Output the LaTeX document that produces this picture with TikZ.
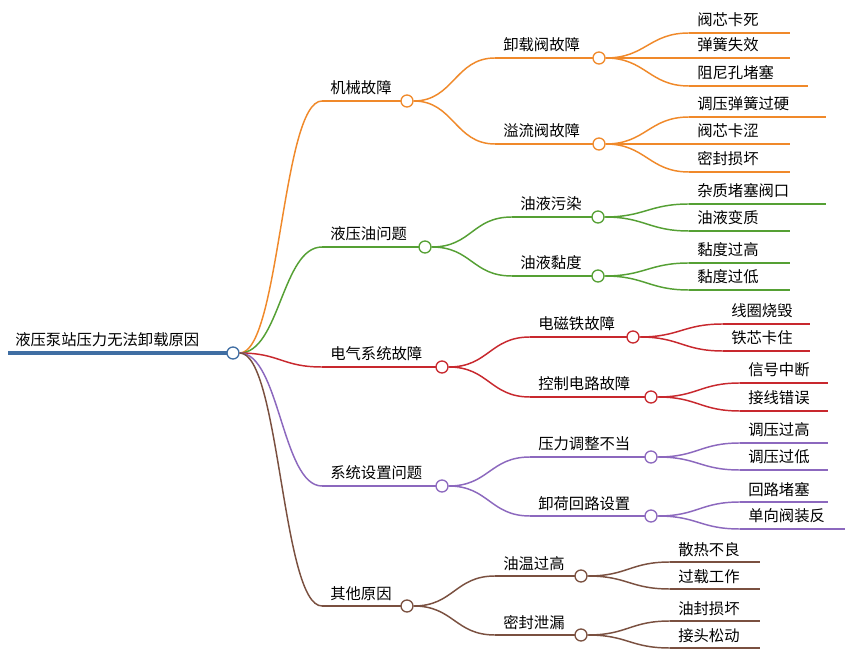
\documentclass[tikz,border=0pt]{standalone}
\usepackage{fontspec}
\setmainfont{Noto Sans CJK SC}
\begin{document}
\begin{tikzpicture}[x=0.75pt,y=-0.75pt,
  lbl/.style={anchor=base west,inner sep=0pt,font=\fontsize{11.5pt}{13pt}\selectfont},
  dot/.style={circle,draw,fill=white,minimum size=9pt,inner sep=0pt,line width=1pt},
  ln/.style={line width=1.1pt},
  con/.style={line width=1.1pt}]
\definecolor{cO}{HTML}{F0892A}
\definecolor{cG}{HTML}{55A034}
\definecolor{cR}{HTML}{C8282E}
\definecolor{cP}{HTML}{8C68BE}
\definecolor{cB}{HTML}{7A5040}
\definecolor{cRoot}{HTML}{3F6EA3}
\useasboundingbox (0,0) rectangle (850,666);
\fill[white] (0,0) rectangle (850,666);
% branch: name,color,x0,xc,y,text
\newcommand\mmbr[6]{%
  \coordinate (#1-s) at (#3,#5);
  \draw[#2,ln] (#1-s) -- (#4,#5);
  \node[lbl] (#1-t) at (#3+8,#5-7) {#6};
  \node[dot,draw=#2] (#1) at (#4,#5) {};}
\newcommand\mmlf[6]{%
  \coordinate (#1-s) at (#3,#5);
  \coordinate (#1-e) at (#4,#5);
  \draw[#2,ln] (#1-s) -- (#1-e);
  \node[lbl] (#1-t) at (#3+8,#5-7) {#6};}
\newcommand\cn[3]{\draw[#1,con] (#2.east) .. controls +(40,0) and +(-40,0) .. (#3-s);}
% root
\coordinate (r-s) at (8,353);
\draw[cRoot,line width=3pt] (r-s) -- (233,353);
\node[lbl] (r-t) at (15,346) {液压泵站压力无法卸载原因};
\node[dot,draw=cRoot] (r) at (233,353) {};
% level 1
\mmbr{a}{cO}{322}{407}{101}{机械故障}
\mmbr{b}{cG}{322}{425}{247}{液压油问题}
\mmbr{c}{cR}{322}{442}{367}{电气系统故障}
\mmbr{d}{cP}{322}{442}{486}{系统设置问题}
\mmbr{e}{cB}{322}{407}{606}{其他原因}
\cn{cO}{r}{a}\cn{cG}{r}{b}\cn{cR}{r}{c}\cn{cP}{r}{d}\cn{cB}{r}{e}
% level 2
\mmbr{a1}{cO}{495}{599}{58}{卸载阀故障}
\mmbr{a2}{cO}{495}{599}{144}{溢流阀故障}
\mmbr{b1}{cG}{512}{598}{217}{油液污染}
\mmbr{b2}{cG}{512}{598}{276}{油液黏度}
\mmbr{c1}{cR}{530}{633}{337}{电磁铁故障}
\mmbr{c2}{cR}{530}{651}{397}{控制电路故障}
\mmbr{d1}{cP}{530}{651}{457}{压力调整不当}
\mmbr{d2}{cP}{530}{651}{516}{卸荷回路设置}
\mmbr{e1}{cB}{495}{581}{576}{油温过高}
\mmbr{e2}{cB}{495}{581}{635}{密封泄漏}
\cn{cO}{a}{a1}\cn{cO}{a}{a2}
\cn{cG}{b}{b1}\cn{cG}{b}{b2}
\cn{cR}{c}{c1}\cn{cR}{c}{c2}
\cn{cP}{d}{d1}\cn{cP}{d}{d2}
\cn{cB}{e}{e1}\cn{cB}{e}{e2}
% level 3
\mmlf{a11}{cO}{689}{790}{33}{阀芯卡死}
\mmlf{a12}{cO}{689}{790}{58}{弹簧失效}
\mmlf{a13}{cO}{689}{808}{86}{阻尼孔堵塞}
\mmlf{a21}{cO}{689}{826}{117}{调压弹簧过硬}
\mmlf{a22}{cO}{689}{790}{144}{阀芯卡涩}
\mmlf{a23}{cO}{689}{790}{172}{密封损坏}
\mmlf{b11}{cG}{689}{826}{204}{杂质堵塞阀口}
\mmlf{b12}{cG}{689}{790}{231}{油液变质}
\mmlf{b21}{cG}{689}{790}{263}{黏度过高}
\mmlf{b22}{cG}{689}{790}{290}{黏度过低}
\mmlf{c11}{cR}{723}{810}{324}{线圈烧毁}
\mmlf{c12}{cR}{723}{810}{351}{铁芯卡住}
\mmlf{c21}{cR}{740}{828}{383}{信号中断}
\mmlf{c22}{cR}{740}{828}{411}{接线错误}
\mmlf{d11}{cP}{740}{828}{443}{调压过高}
\mmlf{d12}{cP}{740}{828}{470}{调压过低}
\mmlf{d21}{cP}{740}{828}{502}{回路堵塞}
\mmlf{d22}{cP}{740}{845}{529}{单向阀装反}
\mmlf{e11}{cB}{670}{760}{562}{散热不良}
\mmlf{e12}{cB}{670}{760}{589}{过载工作}
\mmlf{e21}{cB}{670}{760}{621}{油封损坏}
\mmlf{e22}{cB}{670}{760}{648}{接头松动}
\cn{cO}{a1}{a11}\cn{cO}{a1}{a12}\cn{cO}{a1}{a13}
\cn{cO}{a2}{a21}\cn{cO}{a2}{a22}\cn{cO}{a2}{a23}
\cn{cG}{b1}{b11}\cn{cG}{b1}{b12}\cn{cG}{b2}{b21}\cn{cG}{b2}{b22}
\cn{cR}{c1}{c11}\cn{cR}{c1}{c12}\cn{cR}{c2}{c21}\cn{cR}{c2}{c22}
\cn{cP}{d1}{d11}\cn{cP}{d1}{d12}\cn{cP}{d2}{d21}\cn{cP}{d2}{d22}
\cn{cB}{e1}{e11}\cn{cB}{e1}{e12}\cn{cB}{e2}{e21}\cn{cB}{e2}{e22}
\end{tikzpicture}
\end{document}
